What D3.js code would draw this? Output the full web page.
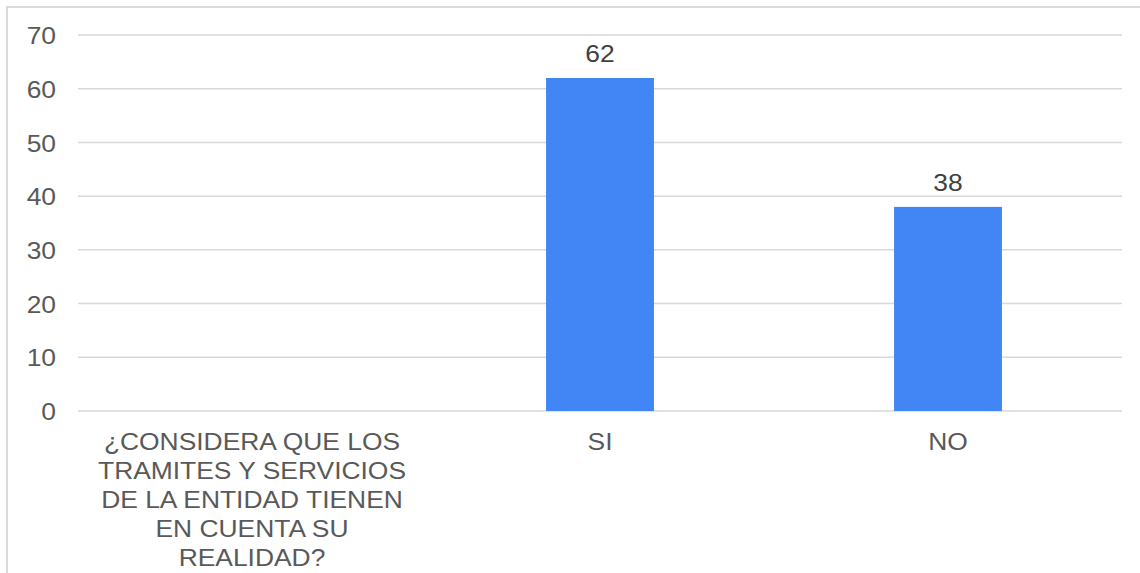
<!DOCTYPE html>
<meta charset="utf-8">
<style>
body { margin: 0; background: #fff; }
svg { display: block; font-family: "Liberation Sans", Arial, sans-serif; }
.grid line { stroke: #d9d9d9; stroke-width: 1.5px; }
.tick text { fill: #595959; font-size: 24px; }
.cat text { fill: #595959; font-size: 24px; }
.val { fill: #404040; font-size: 24px; }
</style>
<svg width="1140" height="573"></svg>
<script src="https://d3js.org/d3.v7.min.js"></script>
<script>

// data
var categories = ["¿CONSIDERA QUE LOS TRAMITES Y SERVICIOS DE LA ENTIDAD TIENEN EN CUENTA SU REALIDAD?", "SI", "NO"];
var values = [null, 62, 38];
var yTicks = [0, 10, 20, 30, 40, 50, 60, 70];
var catLines = [
  ["¿CONSIDERA QUE LOS", "TRAMITES Y SERVICIOS", "DE LA ENTIDAD TIENEN", "EN CUENTA SU", "REALIDAD?"],
  ["SI"],
  ["NO"]
];

var stretch = "scale(1.1,1)";   // the source font is a bit wider than Liberation Sans

var svg = d3.select("svg");

// outer frame
svg.append("rect")
  .attr("x", 7).attr("y", 7)
  .attr("width", 1200).attr("height", 700)
  .attr("fill", "none")
  .attr("stroke", "#d9d9d9")
  .attr("stroke-width", 2);

var x = d3.scaleBand()
  .domain(categories)
  .range([78, 1122])
  .paddingInner(0.69)
  .paddingOuter(0.345);

var band = d3.scaleBand().domain(categories).range([78, 1122]);

var y = d3.scaleLinear()
  .domain([0, 70])
  .range([411, 35]);

var grid = svg.append("g").attr("class", "grid");
grid.selectAll("line")
  .data(yTicks)
  .enter().append("line")
    .attr("x1", 78).attr("x2", 1122)
    .attr("y1", function(d) { return y(d); })
    .attr("y2", function(d) { return y(d); });

var yAxis = svg.append("g")
  .attr("transform", "translate(56,0)")
  .call(d3.axisLeft(y).tickValues(yTicks).tickSize(0).tickPadding(0));
yAxis.select(".domain").remove();
yAxis.selectAll("text")
  .attr("font-family", null).attr("font-size", null)
  .attr("dy", "0.36em")
  .attr("transform", stretch);

var bars = categories.map(function(c, i) { return { cat: c, v: values[i] }; })
  .filter(function(d) { return d.v !== null; });

svg.selectAll("rect.bar")
  .data(bars)
  .enter().append("rect")
    .attr("class", "bar")
    .attr("x", function(d) { return x(d.cat); })
    .attr("width", x.bandwidth())
    .attr("y", function(d) { return y(d.v); })
    .attr("height", function(d) { return y(0) - y(d.v); })
    .attr("fill", "#4285f4");

svg.selectAll("g.valg")
  .data(bars)
  .enter().append("g")
    .attr("class", "valg")
    .attr("transform", function(d) {
      return "translate(" + (x(d.cat) + x.bandwidth() / 2) + "," + (y(d.v) - 16) + ")";
    })
  .append("text")
    .attr("class", "val")
    .attr("text-anchor", "middle")
    .attr("transform", stretch)
    .text(function(d) { return d.v; });

var cat = svg.append("g").attr("class", "cat");
categories.forEach(function(c, i) {
  var t = cat.append("g")
    .attr("transform", "translate(" + (band(c) + band.bandwidth() / 2) + ",450)")
    .append("text")
      .attr("text-anchor", "middle")
      .attr("transform", stretch);
  catLines[i].forEach(function(line, j) {
    t.append("tspan")
      .attr("x", 0)
      .attr("dy", j === 0 ? 0 : 29)
      .text(line);
  });
});

</script>
